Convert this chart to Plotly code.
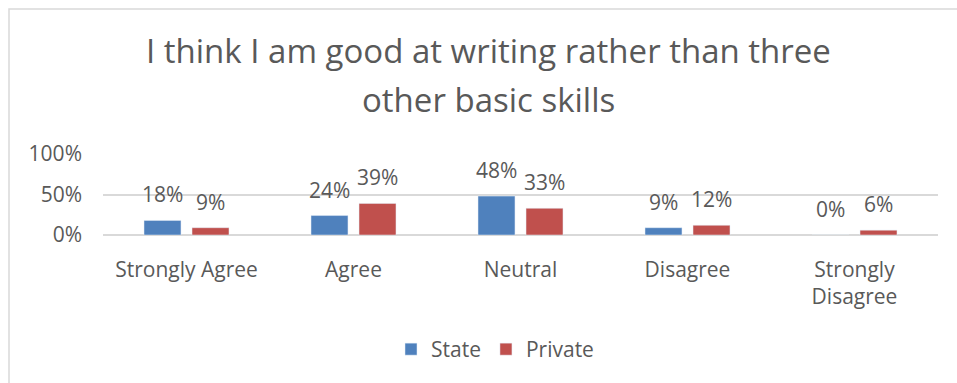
import plotly.graph_objects as go

categories = ["Strongly Agree", "Agree", "Neutral", "Disagree", "Strongly<br>Disagree"]
state = [0.18, 0.24, 0.48, 0.09, 0.0]
private = [0.09, 0.39, 0.33, 0.12, 0.06]
state_labels = ["18%", "24%", "48%", "9%", "0%"]
private_labels = ["9%", "39%", "33%", "12%", "6%"]
title_lines = ["I think I am good at writing rather than three", "other basic skills"]

W, H = 957, 383
L, R, T, B = 103, 19, 154, 148
FONT = "Open Sans"
GRAY = "#595959"
FS = 21

fig = go.Figure()
fig.add_trace(go.Bar(name="State", x=categories, y=state, marker_color="#4F81BD"))
fig.add_trace(go.Bar(name="Private", x=categories, y=private, marker_color="#C0504D"))

# data labels above bars
for vals, labs, shift in ((state, state_labels, -24), (private, private_labels, 24)):
    for c, v, t in zip(categories, vals, labs):
        fig.add_annotation(x=c, y=v, xref="x", yref="y", text=t, showarrow=False,
                           xshift=shift, yshift=10, yanchor="bottom", xanchor="center",
                           font=dict(size=FS, color=GRAY, family=FONT))

pw = W - L - R
ph = H - T - B
def px_x(x):
    return (x - L) / pw
def px_y(y):
    return 1 - (y - T) / ph

# title lines
for txt, yc in zip(title_lines, (50, 99)):
    fig.add_annotation(x=px_x(W / 2 + 10), y=px_y(yc), xref="paper", yref="paper", text=txt,
                       showarrow=False, xanchor="center", yanchor="middle",
                       font=dict(size=33, color=GRAY, family=FONT))

fig.add_shape(type="rect", xref="paper", yref="paper",
              x0=px_x(9), x1=px_x(W + 5), y0=px_y(H + 5), y1=px_y(9),
              line=dict(color="#D9D9D9", width=1.5), layer="below")

fig.update_layout(
    width=W, height=H,
    margin=dict(l=L, r=R, t=T, b=B),
    paper_bgcolor="white", plot_bgcolor="white",
    barmode="group", bargap=0.425, bargroupgap=0.23,
    font=dict(family=FONT, color=GRAY, size=FS),
    showlegend=True,
    legend=dict(orientation="h", x=px_x(495), xanchor="center", y=px_y(329), yanchor="top",
                font=dict(size=FS, color=GRAY, family=FONT), itemwidth=30,
                traceorder="normal"),
)
fig.update_yaxes(range=[0, 1], tickvals=[0, 0.5, 1], ticktext=["0%", "50%", "100%"],
                 showgrid=True, gridcolor="#D9D9D9", gridwidth=1.5, zeroline=True,
                 zerolinecolor="#D9D9D9", zerolinewidth=1.5, ticks="", showline=False,
                 tickfont=dict(size=FS, color=GRAY, family=FONT), ticklabelstandoff=20)
fig.update_xaxes(showline=False, ticks="", tickfont=dict(size=FS, color=GRAY, family=FONT),
                 ticklabelstandoff=20)

fig.write_html("out.html", config={"displayModeBar": False},
               post_script="document.body.style.margin='0';")
